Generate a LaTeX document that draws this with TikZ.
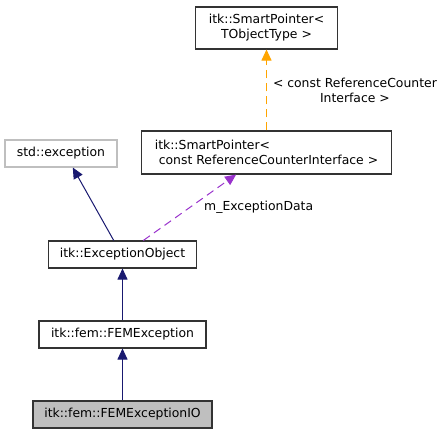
\documentclass[tikz,border=0pt]{standalone}
\usepackage{fontspec}
\setmainfont{DejaVu Sans}
\usetikzlibrary{arrows.meta, positioning}

\definecolor{edgenavy}{RGB}{25,25,112}
\definecolor{edgepurple}{RGB}{153,50,204}
\definecolor{edgeorange}{RGB}{255,165,0}

\begin{document}
\begin{tikzpicture}[x=1pt, y=-1pt, >={Triangle[length=11pt, width=10pt]},
  every node/.style={font=\fontsize{12.4}{15}\selectfont, inner sep=0pt},
  cls/.style={draw=black!80, line width=1.1pt, rectangle, minimum height=27pt, align=center},
  extcls/.style={cls, draw=black!25},
  curcls/.style={cls, fill=black!25},
  inherit/.style={->, color=edgenavy, line width=1pt},
  uses/.style={->, color=edgepurple, line width=1pt, dash pattern=on 8pt off 5pt},
  templ/.style={->, color=edgeorange, line width=1pt, dash pattern=on 8pt off 5pt},
  lbl/.style={text=black, align=center}]
\useasboundingbox (0,0) rectangle (445,435);
\node[cls, minimum width=142pt, minimum height=42pt] (tobj) at (266.5,28) {itk::SmartPointer<\\TObjectType >};
\node[cls, minimum width=250pt, minimum height=43pt, align=left] (refptr) at (266.5,152.5) {itk::SmartPointer<\\\hspace{4pt}const ReferenceCounterInterface >};
\node[extcls, minimum width=112pt] (stdexc) at (61,153.5) {std::exception};
\node[cls, minimum width=148pt] (excobj) at (122.5,254.5) {itk::ExceptionObject};
\node[cls, minimum width=167pt] (femexc) at (122.5,334.5) {itk::fem::FEMException};
\node[curcls, minimum width=179pt] (femio) at (122.5,414.5) {itk::fem::FEMExceptionIO};
\draw[inherit] (femio) -- (femexc);
\draw[inherit] (femexc) -- (excobj);
\draw[inherit] (excobj.122) -- (stdexc.-50.8);
\draw[uses] (excobj.34.7) -- node[lbl, right=14pt] {m\_ExceptionData} (refptr.-144.4);
\draw[templ] (refptr.north) -- node[lbl, right=6pt] {< const ReferenceCounter\\Interface >} (tobj.south);
\end{tikzpicture}
\end{document}
